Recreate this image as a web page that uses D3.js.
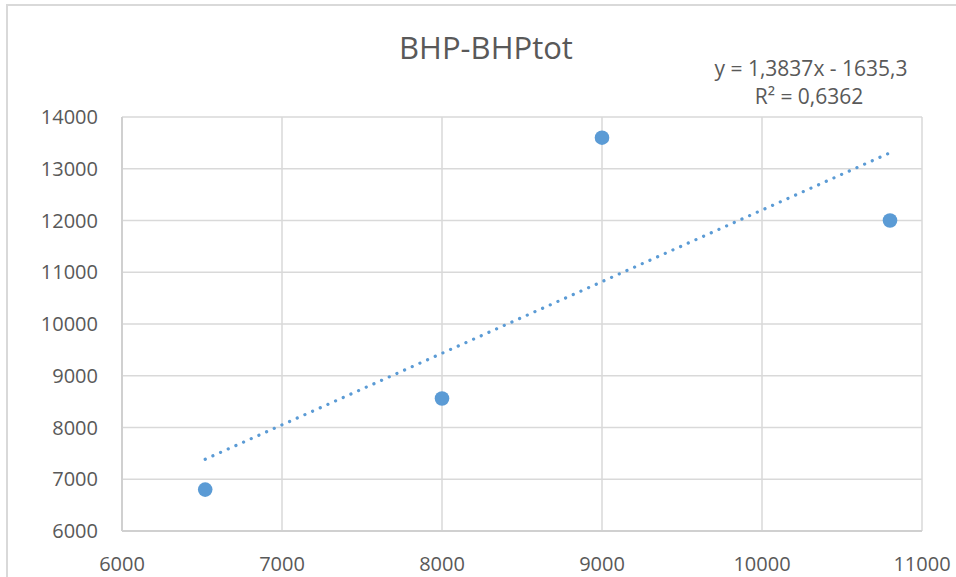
<!DOCTYPE html>
<meta charset="utf-8">
<html lang="en">
<head>
	<title>BHP-BHPtot</title>
	<script src="https://d3js.org/d3.v7.min.js" charset="utf-8"></script>
	<style>
		body { margin: 0; background: #fff; }
		text { font-family: "Open Sans", sans-serif; fill: #595959; }
	</style>
</head>
<body>
	<script>
// data
var bhp = [6520, 8000, 9000, 10800];
var bhpTot = [6800, 8560, 13600, 12000];
var xTicks = [6000, 7000, 8000, 9000, 10000, 11000];
var yTicks = [6000, 7000, 8000, 9000, 10000, 11000, 12000, 13000, 14000];
var slope = 1.3837, intercept = -1635.3;
var eqLabel = "y = 1,3837x - 1635,3",
    r2Label = "R² = 0,6362";

var width = 956,
    height = 577;

var svg = d3.select("body").append("svg")
    .attr("width", width)
    .attr("height", height);

// chart area border (only top and left visible)
svg.append("path")
    .attr("d", "M7,580 V5 H960")
    .attr("fill", "none")
    .attr("stroke", "#d9d9d9")
    .attr("stroke-width", 2);

var x = d3.scaleLinear().domain([6000, 11000]).range([122, 922]);
var y = d3.scaleLinear().domain([6000, 14000]).range([531, 117]);

// gridlines
svg.append("g")
  .selectAll("line.h")
    .data(yTicks)
  .enter().append("line")
    .attr("x1", x(6000)).attr("x2", x(11000))
    .attr("y1", d => y(d)).attr("y2", d => y(d))
    .attr("stroke", "#d9d9d9")
    .attr("stroke-width", 1.5);

svg.append("g")
  .selectAll("line.v")
    .data(xTicks)
  .enter().append("line")
    .attr("y1", y(6000)).attr("y2", y(14000))
    .attr("x1", d => x(d)).attr("x2", d => x(d))
    .attr("stroke", "#d9d9d9")
    .attr("stroke-width", 1.5);

// axes lines
svg.append("line")
    .attr("x1", x(6000)).attr("x2", x(6000))
    .attr("y1", y(6000)).attr("y2", y(14000))
    .attr("stroke", "#d0d0d0").attr("stroke-width", 2);
svg.append("line")
    .attr("x1", x(6000)).attr("x2", x(11000))
    .attr("y1", y(6000)).attr("y2", y(6000))
    .attr("stroke", "#d0d0d0").attr("stroke-width", 2);

// tick labels
svg.append("g")
  .selectAll("text")
    .data(yTicks)
  .enter().append("text")
    .attr("x", 98)
    .attr("y", d => y(d))
    .attr("dy", "0.35em")
    .attr("text-anchor", "end")
    .style("font-size", "20px")
    .text(d => d);

svg.append("g")
  .selectAll("text")
    .data(xTicks)
  .enter().append("text")
    .attr("x", d => x(d))
    .attr("y", 571)
    .attr("text-anchor", "middle")
    .style("font-size", "20px")
    .text(d => d);

// trendline
var x0 = d3.min(bhp), x1 = d3.max(bhp);
svg.append("line")
    .attr("x1", x(x0)).attr("y1", y(slope * x0 + intercept))
    .attr("x2", x(x1)).attr("y2", y(slope * x1 + intercept))
    .attr("stroke", "#5b9bd5")
    .attr("stroke-width", 3.2)
    .attr("stroke-linecap", "round")
    .attr("stroke-dasharray", "0.1 8.3");

// points
svg.append("g")
  .selectAll("circle")
    .data(bhp)
  .enter().append("circle")
    .attr("cx", d => x(d))
    .attr("cy", (d, i) => y(bhpTot[i]))
    .attr("r", 7.3)
    .attr("fill", "#5b9bd5");

// title
svg.append("text")
    .attr("x", 486)
    .attr("y", 59)
    .attr("text-anchor", "middle")
    .style("font-size", "31px")
    .text("BHP-BHPtot");

// equation
svg.append("text")
    .attr("x", 811)
    .attr("y", 76)
    .attr("text-anchor", "middle")
    .style("font-size", "21px")
    .text(eqLabel);
svg.append("text")
    .attr("x", 809)
    .attr("y", 104)
    .attr("text-anchor", "middle")
    .style("font-size", "21px")
    .text(r2Label);
	</script>
</body>
</html>
